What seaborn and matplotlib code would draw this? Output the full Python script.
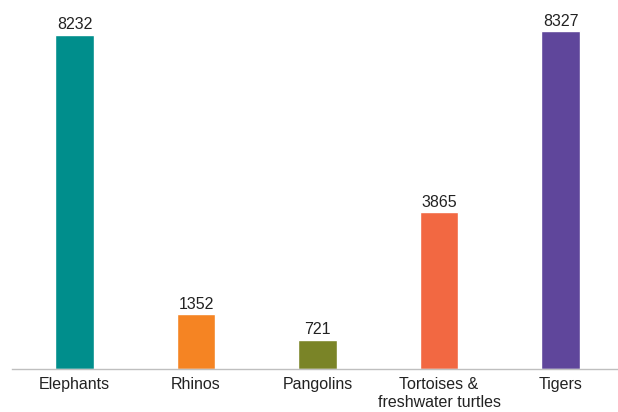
import matplotlib
matplotlib.use("Agg")
import matplotlib.pyplot as plt
import seaborn as sns
import pandas as pd

species = ["Elephants", "Rhinos", "Pangolins", "Tortoises &\nfreshwater turtles", "Tigers"]
seizures = [8232, 1352, 721, 3865, 8327]
bar_colors = ["#008E8C", "#F58423", "#7A8427", "#F26842", "#5F469B"]

sns.set_theme(style="white")
plt.rcParams["font.family"] = ["Liberation Sans", "DejaVu Sans"]

df = pd.DataFrame({"species": species, "count": seizures})

fig = plt.figure(figsize=(6.18, 4.12), dpi=100)
ax = fig.add_axes([12 / 618, 0.104, 606 / 618, 0.896])

sns.barplot(data=df, x="species", y="count", hue="species", palette=bar_colors,
            width=0.32, legend=False, ax=ax, saturation=1)

for i, v in enumerate(seizures):
    ax.text(i, v + 60, str(v), ha="center", va="bottom", fontsize=11.5, color="#222222")

ax.set_ylim(0, 9090)
ax.set_xlim(-0.514, 4.473)
ax.set_xlabel("")
ax.set_ylabel("")
ax.set_yticks([])
ax.tick_params(axis="x", length=0, labelsize=11.5, labelcolor="#222222", pad=6)
for s in ["top", "right", "left"]:
    ax.spines[s].set_visible(False)
ax.spines["bottom"].set_color("#BFBFBF")
ax.spines["bottom"].set_linewidth(1.0)

fig.savefig("out.png", dpi=100)
